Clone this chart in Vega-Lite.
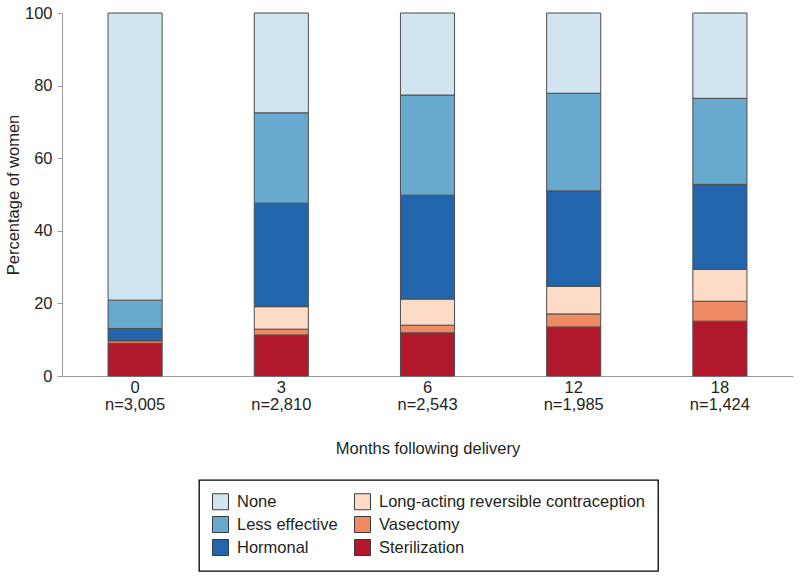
{
  "$schema": "https://vega.github.io/schema/vega-lite/v6.json",
  "width": 731,
  "height": 363,
  "autosize": "none",
  "padding": {"left": 62, "top": 13, "right": 7, "bottom": 201},
  "background": "white",
  "config": {
    "view": {"stroke": null},
    "font": "Liberation Sans",
    "axis": {"labelFont": "Liberation Sans", "titleFont": "Liberation Sans", "labelColor": "#231f20", "titleColor": "#231f20", "titleFontWeight": "normal", "labelFontSize": 16.5, "titleFontSize": 16.5, "domainColor": "#9a9a9a", "tickColor": "#9a9a9a", "grid": false},
    "legend": {"labelFont": "Liberation Sans", "labelFontSize": 16.5, "labelColor": "#231f20", "labelLimit": 400}
  },
  "data": {
    "values": [
      {"month": "0|n=3,005", "method": "Sterilization", "ord": 1, "pct": 9.0},
      {"month": "0|n=3,005", "method": "Vasectomy", "ord": 2, "pct": 0.7},
      {"month": "0|n=3,005", "method": "Long-acting reversible contraception", "ord": 3, "pct": 0.1},
      {"month": "0|n=3,005", "method": "Hormonal", "ord": 4, "pct": 3.3},
      {"month": "0|n=3,005", "method": "Less effective", "ord": 5, "pct": 7.8},
      {"month": "0|n=3,005", "method": "None", "ord": 6, "pct": 79.1},
      {"month": "3|n=2,810", "method": "Sterilization", "ord": 1, "pct": 11.3},
      {"month": "3|n=2,810", "method": "Vasectomy", "ord": 2, "pct": 1.6},
      {"month": "3|n=2,810", "method": "Long-acting reversible contraception", "ord": 3, "pct": 6.2},
      {"month": "3|n=2,810", "method": "Hormonal", "ord": 4, "pct": 28.5},
      {"month": "3|n=2,810", "method": "Less effective", "ord": 5, "pct": 24.9},
      {"month": "3|n=2,810", "method": "None", "ord": 6, "pct": 27.5},
      {"month": "6|n=2,543", "method": "Sterilization", "ord": 1, "pct": 11.9},
      {"month": "6|n=2,543", "method": "Vasectomy", "ord": 2, "pct": 2.1},
      {"month": "6|n=2,543", "method": "Long-acting reversible contraception", "ord": 3, "pct": 7.2},
      {"month": "6|n=2,543", "method": "Hormonal", "ord": 4, "pct": 28.6},
      {"month": "6|n=2,543", "method": "Less effective", "ord": 5, "pct": 27.6},
      {"month": "6|n=2,543", "method": "None", "ord": 6, "pct": 22.6},
      {"month": "12|n=1,985", "method": "Sterilization", "ord": 1, "pct": 13.5},
      {"month": "12|n=1,985", "method": "Vasectomy", "ord": 2, "pct": 3.6},
      {"month": "12|n=1,985", "method": "Long-acting reversible contraception", "ord": 3, "pct": 7.6},
      {"month": "12|n=1,985", "method": "Hormonal", "ord": 4, "pct": 26.3},
      {"month": "12|n=1,985", "method": "Less effective", "ord": 5, "pct": 26.9},
      {"month": "12|n=1,985", "method": "None", "ord": 6, "pct": 22.1},
      {"month": "18|n=1,424", "method": "Sterilization", "ord": 1, "pct": 15.1},
      {"month": "18|n=1,424", "method": "Vasectomy", "ord": 2, "pct": 5.5},
      {"month": "18|n=1,424", "method": "Long-acting reversible contraception", "ord": 3, "pct": 8.8},
      {"month": "18|n=1,424", "method": "Hormonal", "ord": 4, "pct": 23.4},
      {"month": "18|n=1,424", "method": "Less effective", "ord": 5, "pct": 23.7},
      {"month": "18|n=1,424", "method": "None", "ord": 6, "pct": 23.5}
    ]
  },
  "mark": {"type": "bar", "stroke": "#4d4d4d", "strokeWidth": 1},
  "encoding": {
    "x": {
      "field": "month",
      "type": "nominal",
      "scale": {"domain": ["0|n=3,005", "3|n=2,810", "6|n=2,543", "12|n=1,985", "18|n=1,424"], "paddingInner": 0.63, "paddingOuter": 0.315},
      "axis": {"title": "Months following delivery", "labelAngle": 0, "labelExpr": "split(datum.value, '|')", "labelLineHeight": 17, "labelPadding": 3, "ticks": false, "titlePadding": 28, "domainWidth": 1}
    },
    "y": {
      "field": "pct",
      "type": "quantitative",
      "stack": "zero",
      "scale": {"domain": [0, 100], "nice": false},
      "axis": {"title": "Percentage of women", "values": [0, 20, 40, 60, 80, 100], "tickSize": 5, "labelPadding": 5, "titlePadding": 3}
    },
    "order": {"field": "ord", "type": "quantitative"},
    "color": {
      "field": "method",
      "type": "nominal",
      "scale": {
        "domain": ["None", "Long-acting reversible contraception", "Less effective", "Vasectomy", "Hormonal", "Sterilization"],
        "range": ["#d1e5f0", "#fddbc7", "#67a9cf", "#ef8a62", "#2166ac", "#b2182b"]
      },
      "legend": {
        "title": null,
        "orient": "none",
        "legendX": 137,
        "legendY": 467,
        "columns": 2,
        "direction": "horizontal",
        "symbolType": "square",
        "symbolSize": 256,
        "symbolStrokeColor": "#3a3a3a",
        "symbolStrokeWidth": 1,
        "symbolOpacity": 1,
        "labelOffset": 8,
        "rowPadding": 2,
        "columnPadding": 14,
        "padding": 13,
        "strokeColor": "#000000",
        "encode": {"legend": {"update": {"strokeWidth": {"value": 1.3}}}}
      }
    }
  }
}
